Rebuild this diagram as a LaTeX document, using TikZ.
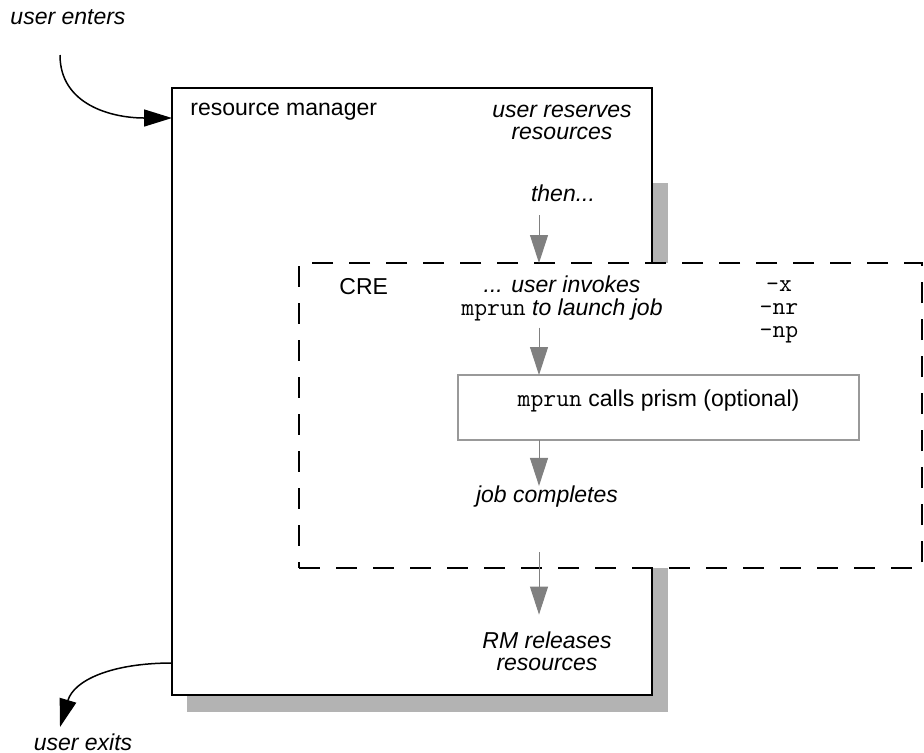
\documentclass[tikz,border=0pt]{standalone}
\usepackage{fontspec}
\setmainfont{Liberation Sans}
\usetikzlibrary{positioning,calc,arrows.meta}

\definecolor{shadowgray}{HTML}{B3B3B3}
\definecolor{flowgray}{HTML}{808080}
\definecolor{edgegray}{HTML}{999999}

\newcommand{\mono}[1]{{\upshape\ttfamily\fontsize{12.5}{11.5}\selectfont #1}}

\tikzset{
    lbl/.style={inner sep=0pt, align=center, font=\fontsize{11.5}{11}\selectfont},
    note/.style={lbl, font=\fontsize{11.5}{11}\selectfont\itshape},
    rmbox/.style={draw, fill=white, line width=0.85pt, inner sep=0pt, outer sep=0pt,
        minimum width=240pt, minimum height=303.5pt},
    crebox/.style={draw, fill=white, line width=0.85pt, dash pattern=on 10.5pt off 8pt,
        inner sep=0pt, outer sep=0pt, minimum width=311.5pt, minimum height=152.5pt},
    prismbox/.style={draw=edgegray, line width=0.6pt, inner sep=0pt, outer sep=0pt,
        minimum width=200.5pt, minimum height=32.5pt, text depth=9.5pt,
        font=\fontsize{11.5}{11.5}\selectfont},
    flow/.style={draw=flowgray, line width=0.5pt, -{Triangle[length=14pt,width=9pt]}},
    userflow/.style={line width=0.75pt, -{Triangle[length=14pt,width=8.5pt]}}
}

\begin{document}
\begin{tikzpicture}[x=0.5pt, y=-0.5pt]
    \useasboundingbox (0,0) rectangle (924,752);

    % resource manager box and its shadow
    \fill[shadowgray] (187,183) rectangle (668,712);
    \node[rmbox] (rm) at (412,391.5) {};
    \node[lbl, anchor=west] (rmname) at (190,112) {resource manager};
    \node[note] (reserve) at (562,122.5) {user reserves\\resources};
    \node[note] (then) at (563,193) {then...};

    % CRE region
    \node[crebox] (cre) at (610.5,415.5) {};
    \node[lbl, anchor=west] (crename) at (339,287) {CRE};
    \node[note, font=\fontsize{11.5}{11.5}\selectfont\itshape] (invoke) at (562,298.5)
        {... user invokes\\\mono{mprun} to launch job};
    \node[lbl, font=\fontsize{12.5}{11.5}\selectfont\ttfamily] (flags) at (779,312) {–x\\–nr\\–np};
    \node[prismbox] (prism) at (658.5,407.5) {\mono{mprun} calls prism (optional)};
    \node[note] (done) at (547,497) {job completes};
    \node[note] (release) at (547,651) {RM releases\\resources};

    % user in and out
    \node[note] (enters) at (68,17) {user enters};
    \node[note] (exits) at (83,742) {user exits};
    \coordinate (inStart) at (60,55);
    \coordinate (outEnd) at (60,727);
    \draw[userflow] (inStart) .. controls (60,105) and (112,118) .. ($(rm.north west)+(0,30)$);
    \draw[userflow] ($(rm.south west)+(0,-32)$) .. controls (112,663) and (74,680) .. (outEnd);

    % flow down the spine
    \coordinate (spine) at (539,0);
    \draw[flow, shorten <=6.8pt] (spine |- then.south) -- (spine |- cre.north);
    \draw[flow, shorten <=3pt] (spine |- invoke.south) -- (spine |- prism.north);
    \draw[flow] (spine |- prism.south) -- (spine |- done.north);
    \draw[flow, shorten <=22pt, shorten >=8.3pt] (spine |- done.south) -- (spine |- release.north);
\end{tikzpicture}
\end{document}
